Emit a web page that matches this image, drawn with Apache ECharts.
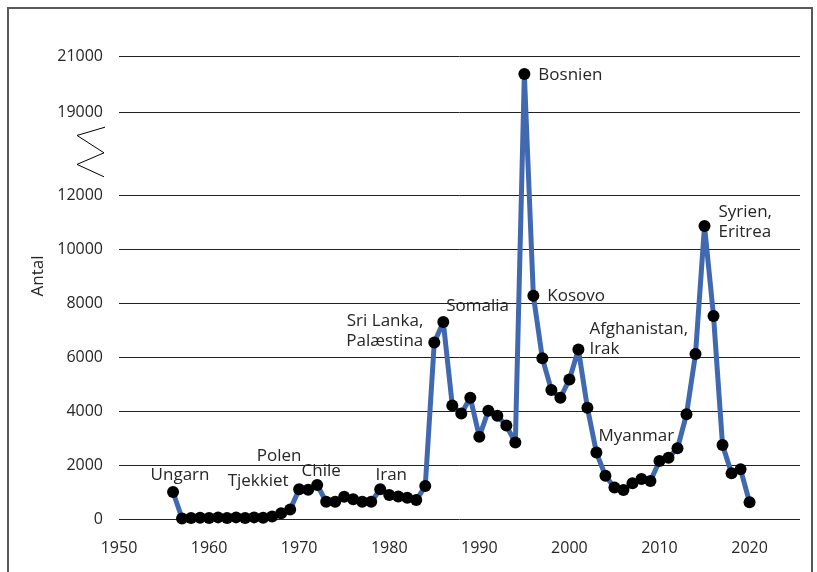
<!DOCTYPE html>
<html>
<head>
<meta charset="utf-8">
<script src="https://cdn.jsdelivr.net/npm/echarts@6/dist/echarts.min.js"></script>
<style>
html,body{margin:0;padding:0;background:#fff;}
#c{width:817px;height:572px;}
</style>
</head>
<body>
<div id="c"></div>
<script>
// ---------------- data ----------------
const years = [1956,1957,1958,1959,1960,1961,1962,1963,1964,1965,1966,1967,1968,1969,
  1970,1971,1972,1973,1974,1975,1976,1977,1978,1979,1980,1981,1982,1983,1984,1985,
  1986,1987,1988,1989,1990,1991,1992,1993,1994,1995,1996,1997,1998,1999,2000,2001,
  2002,2003,2004,2005,2006,2007,2008,2009,2010,2011,2012,2013,2014,2015,2016,2017,
  2018,2019,2020];
const values = [1000,20,40,50,40,60,40,60,40,60,50,90,210,350,
  1100,1080,1260,640,640,820,730,640,640,1100,890,830,790,700,1220,6540,
  7300,4200,3910,4490,3050,4010,3820,3460,2830,20360,8270,5950,4780,4490,5170,6280,
  4120,2460,1600,1170,1070,1320,1480,1410,2150,2270,2620,3880,6110,10850,7520,2740,
  1690,1840,620];
const yTickValues = [0,2000,4000,6000,8000,10000,12000,19000,21000];
const xTickValues = [1950,1960,1970,1980,1990,2000,2010,2020];
const annotationYears = [1956,1968,1969,1973,1979,1985,1986,1995,1996,2001,2003,2015];
const annotationTexts = ['Ungarn','Tjekkiet','Polen','Chile','Iran','Sri Lanka,\nPalæstina',
  'Somalia','Bosnien','Kosovo','Afghanistan,\nIrak','Myanmar','Syrien,\nEritrea'];
const yAxisName = 'Antal';

// ---------------- axis break (12000 -> 19000) ----------------
const BREAK_LOW = 12000, BREAK_HIGH = 19000, BREAK_GAP = 3063, UPPER_FACTOR = 1.0425;
function toDisplay(v){
  if (v <= BREAK_LOW) return v;
  return BREAK_LOW + BREAK_GAP + (v - BREAK_HIGH) * UPPER_FACTOR;
}
const displayTicks = yTickValues.map(toDisplay);

// ---------------- label layout (positions/styles) ----------------
const labelLayout = {
  1956:{align:'center', offset:[7,-17]},
  1968:{align:'center', offset:[-23,-32]},
  1969:{align:'center', offset:[-11,-53]},
  1973:{align:'center', offset:[-5,-31]},
  1979:{align:'center', offset:[11,-14]},
  1985:{align:'right',  offset:[-11,-11]},
  1986:{align:'left',   offset:[3,-16]},
  1995:{align:'left',   offset:[14,1]},
  1996:{align:'left',   offset:[14,0]},
  2001:{align:'left',   offset:[11,-10]},
  2003:{align:'left',   offset:[2,-16]},
  2015:{align:'left',   offset:[14,-4]}
};

const FONT = '"Open Sans", "Noto Sans", sans-serif';
const TXT = '#262626';

const seriesData = years.map((yr, i) => {
  const item = { value: [yr, toDisplay(values[i])] };
  const k = annotationYears.indexOf(yr);
  if (k >= 0) {
    const L = labelLayout[yr];
    item.label = {
      show: true,
      formatter: annotationTexts[k],
      position: 'inside',
      align: L.align,
      verticalAlign: 'middle',
      offset: L.offset,
      color: TXT,
      fontFamily: FONT,
      fontSize: 17,
      lineHeight: 20,
      textBorderWidth: 0
    };
  }
  return item;
});

const chart = echarts.init(document.getElementById('c'), null, {renderer:'canvas'});
const option = {
  animation: false,
  backgroundColor: '#fff',
  grid: { left: 119, right: 17, top: 56, bottom: 53 },
  xAxis: {
    type: 'value',
    min: 1950, max: 2025.6, interval: 10,
    axisLine: { show: false },
    axisTick: { show: false },
    splitLine: { show: false },
    axisLabel: {
      margin: 21, color: TXT, fontFamily: FONT, fontSize: 16,
      formatter: v => (xTickValues.indexOf(Math.round(v)) >= 0 && Math.abs(v - Math.round(v)) < 1e-6) ? String(Math.round(v)) : ''
    }
  },
  yAxis: {
    type: 'value',
    min: 0, max: toDisplay(21000),
    axisLine: { show: false },
    axisTick: { show: false, customValues: displayTicks },
    splitLine: { show: true, lineStyle: { color: '#222', width: 1 } },
    axisLabel: {
      margin: 16, color: TXT, fontFamily: FONT, fontSize: 16,
      customValues: displayTicks,
      formatter: v => {
        let best = -1, bd = Infinity;
        displayTicks.forEach((d, i) => { const dd = Math.abs(d - v); if (dd < bd) { bd = dd; best = i; } });
        return bd < 1 ? String(yTickValues[best]) : '';
      }
    }
  },
  series: [{
    type: 'line',
    data: seriesData,
    lineStyle: { color: '#4169b1', width: 5 },
    symbol: 'circle',
    symbolSize: 12,
    showAllSymbol: true,
    itemStyle: { color: '#000' },
    emphasis: { disabled: true },
    z: 3
  }]
};
chart.setOption(option);

// decorations: frame, axis name, break zigzag (positioned via the axis scale)
const y19 = chart.convertToPixel({yAxisIndex:0}, toDisplay(BREAK_HIGH));
const y12 = chart.convertToPixel({yAxisIndex:0}, toDisplay(BREAK_LOW));
const yTop = chart.convertToPixel({yAxisIndex:0}, toDisplay(21000));
const yBot = chart.convertToPixel({yAxisIndex:0}, 0);
const span = y12 - y19;
const gx = 119;
const zig = [[gx-14, y19 + span*0.18],[gx-42, y19 + span*0.28],[gx-15, y19 + span*0.49],
             [gx-42, y19 + span*0.63],[gx-15, y19 + span*0.78]];
chart.setOption({
  graphic: [
    { type:'rect', shape:{x:8, y:8, width:804, height:620}, style:{fill:'none', stroke:'#595959', lineWidth:2}, silent:true },
    { type:'polyline', shape:{points: zig}, style:{stroke:'#000', lineWidth:1, fill:'none'}, silent:true },
    { type:'text', x:38, y: yBot - (yBot - yTop)*0.525, rotation: Math.PI/2,
      style:{ text: yAxisName, fill: TXT, font: '17px ' + FONT, textAlign:'center', textVerticalAlign:'middle' }, silent:true }
  ]
});
</script>
</body>
</html>
